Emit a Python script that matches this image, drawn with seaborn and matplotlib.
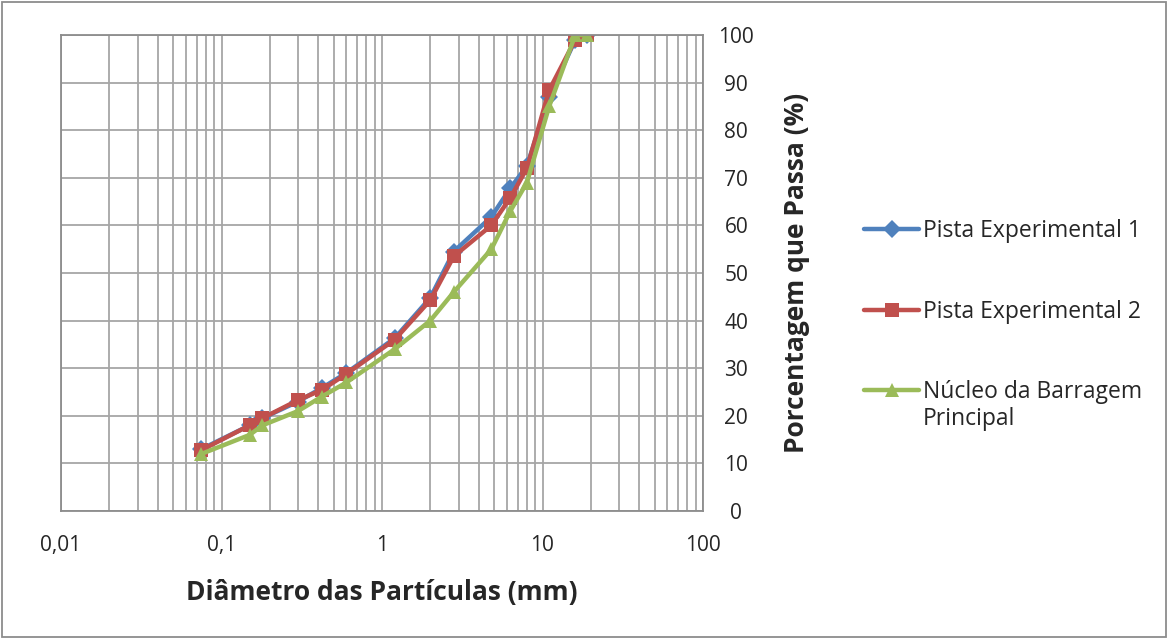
import numpy as np
import pandas as pd
import matplotlib
matplotlib.use('Agg')
import matplotlib.pyplot as plt
from matplotlib.ticker import LogLocator, FixedLocator, FuncFormatter, NullFormatter
from matplotlib.patches import Rectangle
import seaborn as sns

# sieve openings (mm)
DIAMETROS = [0.075, 0.15, 0.18, 0.3, 0.42, 0.6, 1.2, 2.0, 2.8, 4.8, 6.3, 8.0, 11.0, 16.0, 19.0]

PISTA_1 = [13, 18, 19.5, 23, 25.8, 29, 36.3, 44.8, 54.5, 61.8, 67.8, 72.5, 87, 99, 100]
PISTA_2 = [12.8, 18, 19.5, 23.3, 25.4, 28.8, 36, 44.3, 53.5, 60, 65.8, 72, 88.4, 99, 100]
NUCLEO = [12, 16, 18, 21, 24, 27, 34, 40, 46, 55, 63, 69, 85, 100, 100]

SERIES = ['Pista Experimental 1', 'Pista Experimental 2', 'Núcleo da Barragem']
COLOURS = ['#4F81BD', '#C0504D', '#9BBB59']
MARKERS = ['D', 's', '^']

X_TICKS = [0.01, 0.1, 1, 10, 100]
Y_TICKS = list(range(0, 101, 10))

GRID = '#a6a6a6'
FS = 15
FS_LEG = 16.5

df = pd.DataFrame({
    'diametro': DIAMETROS * 3,
    'passa': PISTA_1 + PISTA_2 + NUCLEO,
    'serie': np.repeat(SERIES, len(DIAMETROS)),
})

sns.set_theme(style='white')
plt.rcParams['font.family'] = ['Open Sans', 'DejaVu Sans']

fig = plt.figure(figsize=(11.68, 6.39), dpi=100)
ax = fig.add_axes([61 / 1168, 1 - 511 / 639, 642 / 1168, 476 / 639])

sns.lineplot(
    data=df, x='diametro', y='passa', hue='serie', style='serie',
    hue_order=SERIES, style_order=SERIES,
    palette=COLOURS, markers=MARKERS, dashes=False,
    linewidth=3.2, markersize=9.5, markeredgewidth=0,
    legend=False, ax=ax
)

ax.set_xscale('log')
ax.set_xlim(0.01, 100)
ax.set_ylim(0, 100)

ax.xaxis.set_major_locator(FixedLocator(X_TICKS))
ax.xaxis.set_minor_locator(LogLocator(base=10, subs=np.arange(2, 10)))
ax.xaxis.set_minor_formatter(NullFormatter())
ax.xaxis.set_major_formatter(FuncFormatter(lambda v, p: f'{v:g}'.replace('.', ',')))
ax.set_yticks(Y_TICKS)

ax.yaxis.tick_right()
ax.yaxis.set_label_position('right')
ax.tick_params(axis='both', which='both', length=0)
ax.tick_params(axis='x', labelsize=FS, pad=17)
ax.tick_params(axis='y', labelsize=FS, pad=24)
for lbl in ax.get_yticklabels():
    lbl.set_horizontalalignment('center')

ax.grid(which='both', color=GRID, linewidth=1.3)
for s in ax.spines.values():
    s.set_color('#8c8c8c')
    s.set_linewidth(1.3)

ax.set_xlabel('Diâmetro das Partículas (mm)', fontsize=19, fontweight='bold', labelpad=17)
ax.set_ylabel('Porcentagem que Passa (%)', fontsize=19, fontweight='bold', labelpad=21)

handles = ax.get_lines()[:3]
leg = fig.legend(
    handles, SERIES, loc='upper left', bbox_to_anchor=(853 / 1168, 1 - 208 / 639),
    frameon=False, fontsize=FS_LEG, handlelength=2.4, handletextpad=0.15,
    labelspacing=2.45, borderpad=0
)

# second line of the third legend entry, aligned under its text
fig.canvas.draw()
bb = leg.get_texts()[2].get_window_extent().transformed(fig.transFigure.inverted())
fig.text(bb.x0, bb.y0 - 0.005, 'Principal', fontsize=FS_LEG, va='top', ha='left')

fig.patches.append(Rectangle((0.002, 0.003), 0.996, 0.994, transform=fig.transFigure,
                             fill=False, edgecolor='#8c8c8c', linewidth=1.3))

fig.savefig('out.png', dpi=100)
